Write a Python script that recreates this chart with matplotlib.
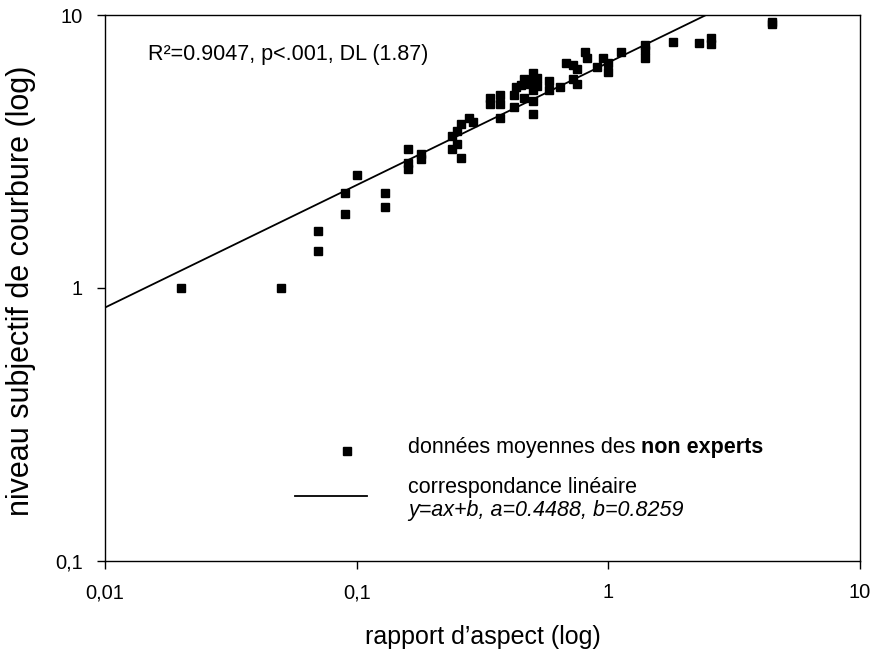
import numpy as np
import matplotlib
matplotlib.use("Agg")
import matplotlib.pyplot as plt

plt.rcParams["font.family"] = ["Liberation Sans", "DejaVu Sans"]

# mean data of non experts (aspect ratio, subjective curvature level)
aspect_ratio = [0.02, 0.05, 0.07, 0.07, 0.09, 0.09, 0.10, 0.13, 0.13,
                0.16, 0.16, 0.16, 0.18, 0.18, 0.24, 0.24, 0.25, 0.25,
                0.26, 0.26, 0.28, 0.29, 0.34, 0.34, 0.37, 0.37, 0.37,
                0.42, 0.42, 0.43, 0.45, 0.46, 0.46, 0.48, 0.50, 0.50,
                0.50, 0.50, 0.50, 0.50, 0.52, 0.52, 0.58, 0.58, 0.64,
                0.68, 0.72, 0.75, 0.72, 0.75, 0.81, 0.82, 0.90, 0.95,
                1.00, 1.00, 1.12, 1.40, 1.40, 1.40, 1.80, 2.28, 2.56,
                2.56, 4.48, 4.48]
curvature = [1.00, 1.00, 1.62, 1.37, 2.23, 1.87, 2.59, 2.23, 1.98,
             3.23, 2.87, 2.73, 3.10, 2.97, 3.60, 3.23, 3.37, 3.75,
             3.99, 2.99, 4.20, 4.06, 4.97, 4.72, 5.08, 4.72, 4.20,
             5.10, 4.60, 5.45, 5.55, 5.83, 4.97, 5.60, 6.13, 5.80,
             5.58, 5.30, 4.84, 4.34, 5.88, 5.49, 5.73, 5.31, 5.45,
             6.67, 6.57, 6.34, 5.83, 5.58, 7.30, 6.96, 6.45, 6.96,
             6.67, 6.19, 7.32, 7.77, 7.45, 6.96, 7.96, 7.90, 8.24,
             7.83, 9.27, 9.45]

# linear fit in log-log space
fit_a = 0.4488
fit_b = 0.8259

x_ticks = [0.01, 0.1, 1, 10]
x_ticklabels = ["0,01", "0,1", "1", "10"]
y_ticks = [0.1, 1, 10]
y_ticklabels = ["0,1", "1", "10"]

fig = plt.figure(figsize=(8.75, 6.53), dpi=100)
ax = fig.add_axes([0.12, 0.141, 0.863, 0.836])

ax.set_xscale("log")
ax.set_yscale("log")
ax.set_xlim(0.01, 10)
ax.set_ylim(0.1, 10)

xfit = np.logspace(-2, 1, 200)
yfit = 10 ** (fit_a * np.log10(xfit) + fit_b)
ax.plot(xfit, yfit, color="black", lw=1.3)

ax.plot(aspect_ratio, curvature, ls="none", marker="s", ms=5.3,
        color="black", mec="black")

ax.set_xticks(x_ticks)
ax.set_xticklabels(x_ticklabels)
ax.set_yticks(y_ticks)
ax.set_yticklabels(y_ticklabels)
ax.minorticks_off()
ax.tick_params(direction="out", length=6, width=1, pad=10, labelsize=14.5)
for sp in ax.spines.values():
    sp.set_linewidth(1)

ax.set_xlabel("rapport d’aspect (log)", fontsize=18)
ax.xaxis.set_label_coords(0.5, -0.117)
ax.set_ylabel("niveau subjectif de courbure (log)", fontsize=22)
ax.yaxis.set_label_coords(-0.091, 0.495)

fs = 15.5
ax.text(0.057, 0.9176, "R²=0.9047, p<.001, DL (1.87)", transform=ax.transAxes,
        fontsize=fs, va="baseline", ha="left")

# legend drawn by hand
ax.plot([0.3205], [0.2015], marker="s", ms=5.3, color="black",
        transform=ax.transAxes, clip_on=False)
ax.plot([0.252, 0.347], [0.119, 0.119], color="black", lw=1.3,
        transform=ax.transAxes)

tx = 0.401
t1 = ax.text(tx, 0.198, "données moyennes des ", transform=ax.transAxes,
             fontsize=fs, va="baseline", ha="left")
fig.canvas.draw()
bb = t1.get_window_extent()
x_end = ax.transAxes.inverted().transform((bb.x1, bb.y0))[0]
ax.text(x_end, 0.198, "non experts", transform=ax.transAxes,
        fontsize=fs, fontweight="bold", va="baseline", ha="left")
ax.text(tx, 0.1245, "correspondance linéaire", transform=ax.transAxes,
        fontsize=fs, va="baseline", ha="left")
ax.text(tx, 0.0824, "y=ax+b, a=0.4488, b=0.8259", transform=ax.transAxes,
        fontsize=fs, style="italic", va="baseline", ha="left")

fig.savefig("out.png", dpi=100)
